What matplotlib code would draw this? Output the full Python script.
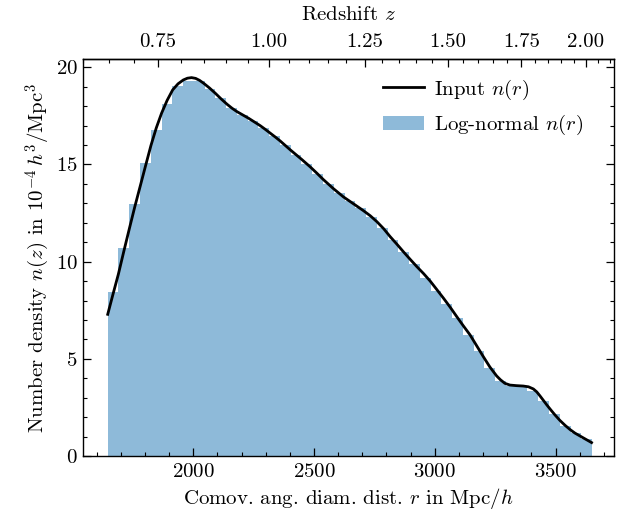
import numpy as np
import matplotlib
matplotlib.use("Agg")
import matplotlib.pyplot as plt
from matplotlib.ticker import MultipleLocator

# ---------------- data ----------------
# Input n(r): comoving distance r [Mpc/h] and density [1e-4 h^3/Mpc^3]
line_r = [1646, 1668, 1690, 1713, 1736, 1758, 1780, 1803, 1825, 1847, 1869,
          1892, 1915, 1937, 1959, 1976, 1993, 2010, 2026, 2043, 2067, 2091,
          2115, 2140, 2160, 2181, 2205, 2229, 2253, 2277, 2298, 2319, 2340,
          2360, 2381, 2402, 2426, 2450, 2484, 2512, 2539, 2580, 2622, 2663,
          2705, 2733, 2760, 2788, 2815, 2843, 2870, 2898, 2926, 2954, 2981,
          3008, 3036, 3064, 3091, 3118, 3146, 3174, 3201, 3228, 3256, 3272,
          3290, 3311, 3338, 3366, 3388, 3408, 3422, 3435, 3449, 3463, 3477,
          3497, 3518, 3540, 3560, 3580, 3601, 3625, 3649]
line_n = [7.29, 8.33, 9.35, 10.55, 11.72, 12.82, 13.86, 14.95, 15.98, 16.88,
          17.64, 18.30, 18.84, 19.15, 19.35, 19.44, 19.47, 19.43, 19.33, 19.18,
          18.94, 18.67, 18.38, 18.10, 17.90, 17.72, 17.55, 17.38, 17.19, 17.00,
          16.81, 16.61, 16.41, 16.21, 15.98, 15.75, 15.50, 15.25, 14.88, 14.55,
          14.22, 13.76, 13.33, 12.98, 12.62, 12.36, 12.06, 11.70, 11.29, 10.90,
          10.51, 10.12, 9.74, 9.38, 9.00, 8.57, 8.12, 7.65, 7.17, 6.70, 6.23,
          5.66, 5.11, 4.58, 4.12, 3.92, 3.74, 3.65, 3.62, 3.60, 3.56, 3.45,
          3.30, 3.10, 2.87, 2.64, 2.42, 2.12, 1.83, 1.57, 1.36, 1.18, 1.03,
          0.86, 0.69]

# Log-normal n(r) histogram: 45 bins between r_min and r_max
hist_rmin = 1646
hist_rmax = 3651
hist_n = [8.42, 10.69, 12.95, 15.06, 16.78, 18.12, 19.06, 19.30, 19.29, 18.90,
          18.40, 17.93, 17.56, 17.23, 16.86, 16.44, 15.98, 15.50, 15.04, 14.51,
          13.99, 13.53, 13.13, 12.76, 12.30, 11.75, 11.12, 10.49, 9.88, 9.15,
          8.49, 7.82, 7.09, 6.23, 5.42, 4.51, 3.88, 3.62, 3.55, 3.35,
          2.82, 2.15, 1.56, 1.16, 0.85]

z_ticks = [0.75, 1.00, 1.25, 1.50, 1.75, 2.00]
x_ticks = [2000, 2500, 3000, 3500]
y_ticks = [0, 5, 10, 15, 20]

# cosmology for the redshift axis (flat LCDM)
Om = 0.3
c_over_H0 = 2997.92458  # Mpc/h

zgrid = np.linspace(0, 4, 4001)
Ez = np.sqrt(Om * (1 + zgrid) ** 3 + (1 - Om))
Dgrid = c_over_H0 * np.concatenate([[0], np.cumsum(0.5 * (1 / Ez[1:] + 1 / Ez[:-1]) * np.diff(zgrid))])


def r2z(r):
    return np.interp(r, Dgrid, zgrid)


def z2r(z):
    return np.interp(z, zgrid, Dgrid)


FS = 15

# ---------------- style ----------------
plt.rcParams.update({
    "font.family": "serif",
    "font.serif": ["cmr10"],
    "mathtext.fontset": "cm",
    "axes.formatter.use_mathtext": True,
    "axes.unicode_minus": False,
    "font.size": FS,
    "xtick.direction": "in",
    "ytick.direction": "in",
    "xtick.major.size": 6,
    "ytick.major.size": 6,
    "xtick.minor.size": 3,
    "ytick.minor.size": 3,
    "xtick.major.width": 0.9,
    "ytick.major.width": 0.9,
    "xtick.minor.width": 0.8,
    "ytick.minor.width": 0.8,
    "axes.linewidth": 1.0,
})

fig = plt.figure(figsize=(6.21, 5.19), dpi=100)
ax = fig.add_axes([0.133, 0.1214, 0.855, 0.765])

edges = np.linspace(hist_rmin, hist_rmax, len(hist_n) + 1)
h_hist = ax.stairs(hist_n, edges, fill=True, color="tab:blue", alpha=0.5, lw=0,
                   label=r"Log-normal $n(r)$")
h_line, = ax.plot(line_r, line_n, color="black", lw=2.0, label=r"Input $n(r)$",
                  solid_joinstyle="round")

ax.set_xlim(1542, 3740)
ax.set_ylim(0, 20.43)
ax.set_xticks(x_ticks)
ax.set_yticks(y_ticks)
ax.xaxis.set_minor_locator(MultipleLocator(100))
ax.yaxis.set_minor_locator(MultipleLocator(1))
ax.tick_params(which="both", top=False, right=True, labelsize=FS)
ax.tick_params(axis="x", which="major", pad=5)

ax.set_xlabel(r"Comov. ang. diam. dist. $r$ in Mpc$/h$", fontsize=FS, labelpad=4)
ax.set_ylabel(r"Number density $n(z)$ in $10^{-4}\,h^3/\mathrm{Mpc}^3$", fontsize=FS, labelpad=3)

sec = ax.secondary_xaxis("top", functions=(r2z, z2r))
sec.set_xticks(z_ticks)
sec.set_xticklabels([f"{z:.2f}" for z in z_ticks])
sec.xaxis.set_minor_locator(MultipleLocator(0.05))
sec.tick_params(which="both", direction="in", labelsize=FS)
sec.tick_params(which="major", pad=6)
sec.set_xlabel(r"Redshift $z$", fontsize=FS, labelpad=9)

ax.legend([h_line, h_hist], [r"Input $n(r)$", r"Log-normal $n(r)$"],
          loc="upper right", bbox_to_anchor=(0.978, 1.0), frameon=False,
          fontsize=FS, handlelength=2.0, handletextpad=0.45,
          borderaxespad=0.5, labelspacing=0.55)

fig.savefig("out.png", dpi=100)
